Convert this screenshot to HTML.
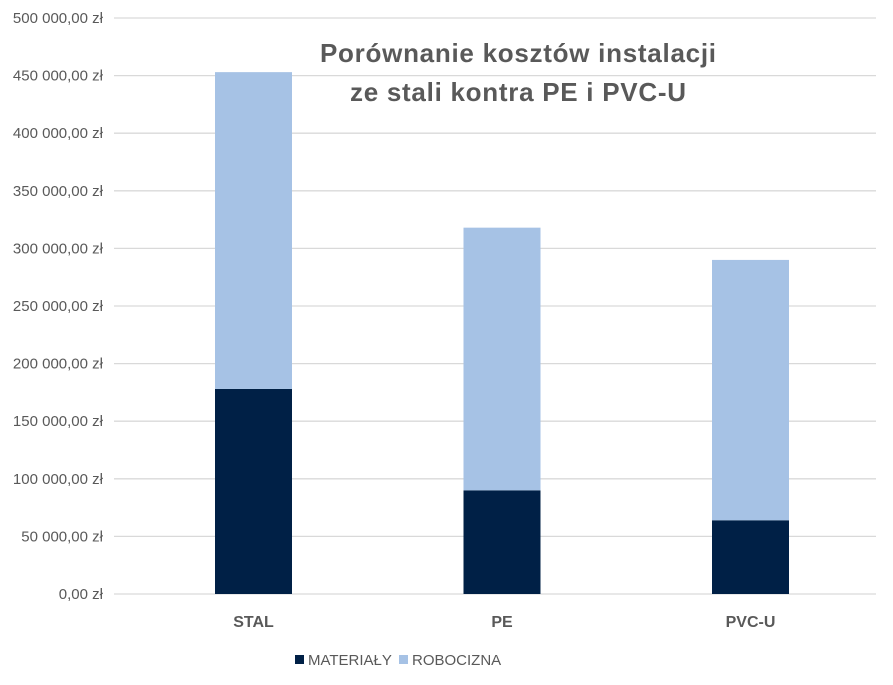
<!DOCTYPE html>
<html><head><meta charset="utf-8"><style>
body{margin:0;background:#fff;}
svg text{font-family:"Liberation Sans",sans-serif;}
</style></head><body>
<svg id="c" width="893" height="680">
<text x="518" y="62" text-anchor="middle" font-size="26" font-weight="bold" fill="#595959" textLength="396">Porównanie kosztów instalacji</text>
<text x="518" y="101" text-anchor="middle" font-size="26" font-weight="bold" fill="#595959" textLength="336">ze stali kontra PE i PVC-U</text>
<g id="grid"></g><g id="bars"></g><g id="labels"></g>
<g>
<rect x="295" y="655" width="9" height="9" fill="#002046"/>
<text x="308" y="665" font-size="15" fill="#595959">MATERIAŁY</text>
<rect x="399" y="655" width="9" height="9" fill="#a6c2e5"/>
<text x="412" y="665" font-size="15" fill="#595959">ROBOCIZNA</text>
</g>
</svg>
<script>
const categories=["STAL","PE","PVC-U"];
const materialy=[178000,90000,64000];
const robocizna=[275000,228000,226000];
const ticks=[0,50000,100000,150000,200000,250000,300000,350000,400000,450000,500000];
const tickLabels=["0,00 zł","50 000,00 zł","100 000,00 zł","150 000,00 zł","200 000,00 zł","250 000,00 zł","300 000,00 zł","350 000,00 zł","400 000,00 zł","450 000,00 zł","500 000,00 zł"];
const NS="http://www.w3.org/2000/svg";
const y=v=>594-v/500000*576;
const x=i=>253.5+i*248.5;
const bw=77;
function mk(t,a,p){const e=document.createElementNS(NS,t);for(const k in a)e.setAttribute(k,a[k]);document.getElementById(p).appendChild(e);return e;}
ticks.forEach((t,i)=>{
 const l=mk("line",{x1:114,x2:876,y1:y(t),y2:y(t),stroke:"#d9d9d9","stroke-width":1.3},"grid");
 
 
 const tx=mk("text",{x:103,y:y(t)+5,"text-anchor":"end","font-size":15,fill:"#595959"},"labels");
 tx.textContent=tickLabels[i];
 
 
});
categories.forEach((c,i)=>{
 const m=mk("rect",{x:x(i)-bw/2,y:y(materialy[i]),width:bw,height:594-y(materialy[i]),fill:"#002046"},"bars");
 
 
 const tot=materialy[i]+robocizna[i];
 const r=mk("rect",{x:x(i)-bw/2,y:y(tot),width:bw,height:y(materialy[i])-y(tot),fill:"#a6c2e5"},"bars");
 
 
 const t=mk("text",{x:x(i),y:627,"text-anchor":"middle","font-size":16,"font-weight":"bold",fill:"#595959"},"labels");
 t.textContent=c;
 
 
});
</script>
</body></html>
